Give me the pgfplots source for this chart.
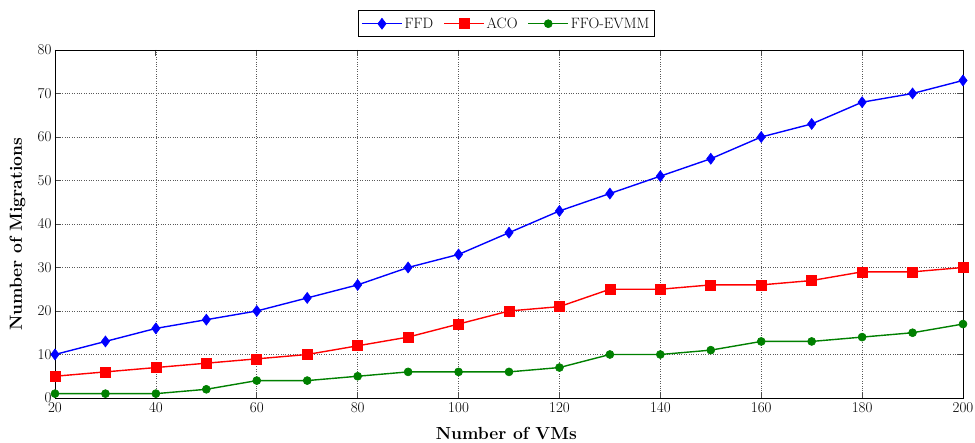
\documentclass[border=0pt]{standalone}
\usepackage{fontspec}
\usepackage{pgfplots}
\pgfplotsset{compat=1.18}
\begin{document}
\begin{tikzpicture}
\begin{axis}[
  scale only axis,
  width=908pt, height=348pt,
  xmin=20, xmax=200, ymin=0, ymax=80,
  xtick={20,40,...,200}, ytick={0,10,...,80},
  /pgf/number format/assume math mode=true,
  tick align=inside,
  major tick length=6pt,
  tick style={black!70, line width=0.8pt},
  axis line style={line width=0.9pt},
  grid=major,
  grid style={dotted, gray!70!black, line width=0.7pt},
  tick label style={font=\fontsize{15}{17}\selectfont},
  xticklabel style={yshift=-1pt},
  xlabel={\textbf{Number of VMs}},
  ylabel={\textbf{Number of Migrations}},
  label style={font=\fontsize{17.5}{20}\selectfont},
  xlabel style={at={(axis description cs:0.497,-0.1006)}, anchor=center},
  ylabel style={at={(axis description cs:-0.0413,0.47)}, anchor=center, rotate=0},
  legend style={at={(0.497,1.037)}, anchor=south, legend columns=3,
    font=\fontsize{15}{17}\selectfont, draw=black, line width=0.7pt,
    /tikz/every even column/.append style={column sep=8pt},
    inner sep=3pt, inner ysep=5pt},
  legend image code/.code={%
    \draw[mark repeat=2,mark phase=2] plot coordinates {(0pt,0pt)(20pt,0pt)(40pt,0pt)};},
  legend cell align=left,
]
\addplot[blue, line width=1.4pt, mark=diamond*, mark size=5.5pt, mark options={fill=blue, line width=0.6pt}]
coordinates {(20,10)(30,13)(40,16)(50,18)(60,20)(70,23)(80,26)(90,30)(100,33)(110,38)(120,43)(130,47)(140,51)(150,55)(160,60)(170,63)(180,68)(190,70)(200,73)};
\addlegendentry{FFD}
\addplot[red, line width=1.4pt, mark=square*, mark size=5pt, mark options={fill=red, line width=0.6pt}]
coordinates {(20,5)(30,6)(40,7)(50,8)(60,9)(70,10)(80,12)(90,14)(100,17)(110,20)(120,21)(130,25)(140,25)(150,26)(160,26)(170,27)(180,29)(190,29)(200,30)};
\addlegendentry{ACO}
\addplot[green!50!black, line width=1.4pt, mark=*, mark size=4pt, mark options={fill=green!50!black, line width=0.6pt}]
coordinates {(20,1)(30,1)(40,1)(50,2)(60,4)(70,4)(80,5)(90,6)(100,6)(110,6)(120,7)(130,10)(140,10)(150,11)(160,13)(170,13)(180,14)(190,15)(200,17)};
\addlegendentry{FFO-EVMM}
\end{axis}
\pgfresetboundingbox
\path[use as bounding box] ([shift={(-55pt,-45pt)}]current axis.south west) rectangle ([shift={(12pt,50pt)}]current axis.north east);
\end{tikzpicture}
\end{document}
